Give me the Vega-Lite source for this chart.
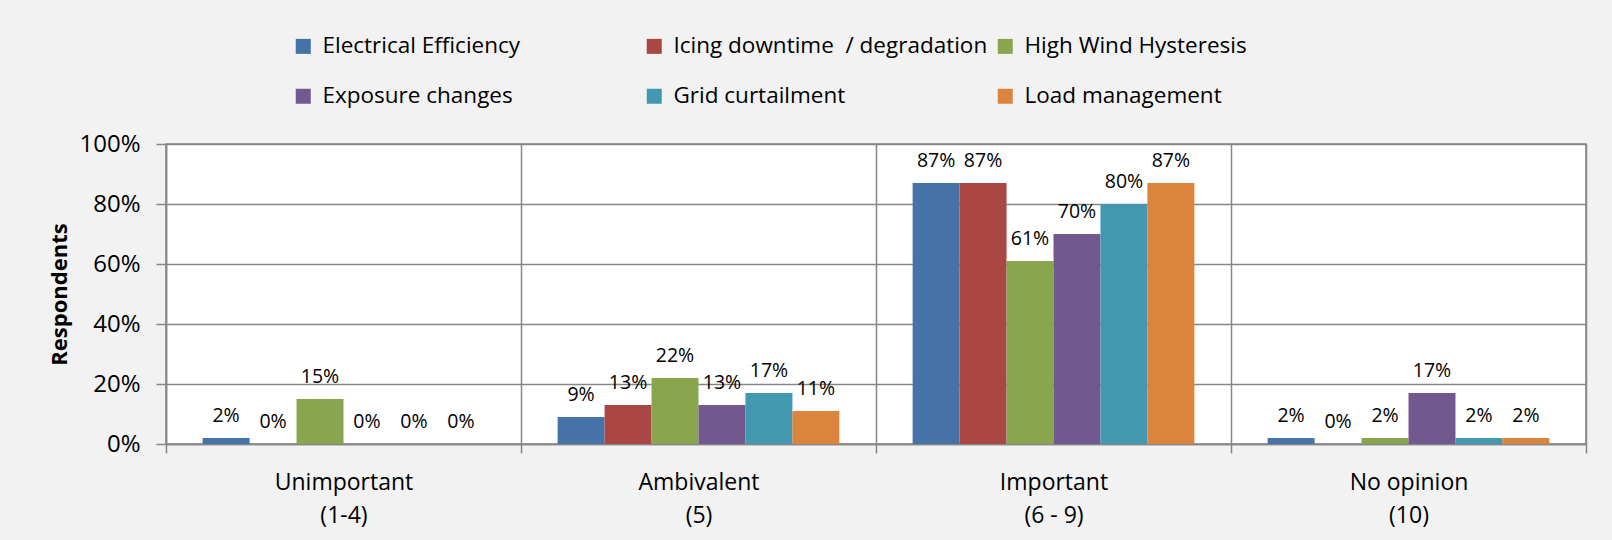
{
  "$schema": "https://vega.github.io/schema/vega-lite/v6.json",
  "width": 1420,
  "height": 300,
  "autosize": {"type": "none"},
  "padding": {"left": 166, "top": 144, "right": 26, "bottom": 96},
  "background": "#F2F2F2",
  "config": {
    "font": "Open Sans",
    "view": {"fill": "white", "stroke": "#868686", "strokeWidth": 1.5}
  },
  "data": {
    "values": [
      {"cat": "Unimportant|(1-4)", "series": "Electrical Efficiency", "v": 0.02},
      {"cat": "Unimportant|(1-4)", "series": "Icing downtime \u00a0/ degradation", "v": 0.0},
      {"cat": "Unimportant|(1-4)", "series": "High Wind Hysteresis", "v": 0.15},
      {"cat": "Unimportant|(1-4)", "series": "Exposure changes", "v": 0.0},
      {"cat": "Unimportant|(1-4)", "series": "Grid curtailment", "v": 0.0},
      {"cat": "Unimportant|(1-4)", "series": "Load management", "v": 0.0},
      {"cat": "Ambivalent|(5)", "series": "Electrical Efficiency", "v": 0.09},
      {"cat": "Ambivalent|(5)", "series": "Icing downtime \u00a0/ degradation", "v": 0.13},
      {"cat": "Ambivalent|(5)", "series": "High Wind Hysteresis", "v": 0.22},
      {"cat": "Ambivalent|(5)", "series": "Exposure changes", "v": 0.13},
      {"cat": "Ambivalent|(5)", "series": "Grid curtailment", "v": 0.17},
      {"cat": "Ambivalent|(5)", "series": "Load management", "v": 0.11},
      {"cat": "Important|(6 - 9)", "series": "Electrical Efficiency", "v": 0.87},
      {"cat": "Important|(6 - 9)", "series": "Icing downtime \u00a0/ degradation", "v": 0.87},
      {"cat": "Important|(6 - 9)", "series": "High Wind Hysteresis", "v": 0.61},
      {"cat": "Important|(6 - 9)", "series": "Exposure changes", "v": 0.70},
      {"cat": "Important|(6 - 9)", "series": "Grid curtailment", "v": 0.80},
      {"cat": "Important|(6 - 9)", "series": "Load management", "v": 0.87},
      {"cat": "No opinion|(10)", "series": "Electrical Efficiency", "v": 0.02},
      {"cat": "No opinion|(10)", "series": "Icing downtime \u00a0/ degradation", "v": 0.0},
      {"cat": "No opinion|(10)", "series": "High Wind Hysteresis", "v": 0.02},
      {"cat": "No opinion|(10)", "series": "Exposure changes", "v": 0.17},
      {"cat": "No opinion|(10)", "series": "Grid curtailment", "v": 0.02},
      {"cat": "No opinion|(10)", "series": "Load management", "v": 0.02}
    ]
  },
  "encoding": {
    "x": {
      "field": "cat",
      "type": "nominal",
      "sort": ["Unimportant|(1-4)", "Ambivalent|(5)", "Important|(6 - 9)", "No opinion|(10)"],
      "scale": {"paddingInner": 0, "paddingOuter": 0},
      "axis": {
        "title": null,
        "labelAngle": 0,
        "labelExpr": "split(datum.label, '|')",
        "labelFontSize": 23,
        "labelColor": "black",
        "labelLineHeight": 33,
        "labelPadding": 18,
        "tickBand": "extent",
        "tickSize": 9,
        "tickColor": "#868686",
        "tickWidth": 1.5,
        "grid": true,
        "gridColor": "#868686",
        "gridWidth": 1.5,
        "domainColor": "#868686",
        "domainWidth": 1.5
      }
    },
    "xOffset": {
      "field": "series",
      "type": "nominal",
      "sort": ["Electrical Efficiency", "Icing downtime \u00a0/ degradation", "High Wind Hysteresis", "Exposure changes", "Grid curtailment", "Load management"],
      "scale": {"paddingInner": 0, "paddingOuter": 0.78}
    },
    "y": {
      "field": "v",
      "type": "quantitative",
      "scale": {"domain": [0, 1]},
      "axis": {
        "title": "Respondents",
        "titleFontSize": 22,
        "titleFontWeight": "bold",
        "titleColor": "black",
        "titlePadding": 7,
        "format": ".0%",
        "values": [0, 0.2, 0.4, 0.6, 0.8, 1],
        "labelFontSize": 24,
        "labelColor": "black",
        "labelPadding": 16,
        "tickSize": 10,
        "tickColor": "#868686",
        "tickWidth": 1.5,
        "gridColor": "#868686",
        "gridWidth": 1.5,
        "domainColor": "#868686",
        "domainWidth": 1.5
      }
    }
  },
  "layer": [
    {
      "mark": {"type": "bar"},
      "encoding": {
        "color": {
          "field": "series",
          "type": "nominal",
          "sort": ["Electrical Efficiency", "Icing downtime \u00a0/ degradation", "High Wind Hysteresis", "Exposure changes", "Grid curtailment", "Load management"],
          "scale": {
            "domain": ["Electrical Efficiency", "Icing downtime \u00a0/ degradation", "High Wind Hysteresis", "Exposure changes", "Grid curtailment", "Load management"],
            "range": ["#4572A7", "#AA4643", "#89A54E", "#71588F", "#4198AF", "#DB843D"]
          },
          "legend": {
            "title": null,
            "orient": "none",
            "direction": "horizontal",
            "legendX": 126,
            "legendY": -109,
            "columns": 3,
            "gridAlign": "all",
            "columnPadding": 6,
            "rowPadding": 27,
            "symbolType": "square",
            "symbolSize": 225,
            "symbolStrokeWidth": 0,
            "labelFontSize": 22.5,
            "labelColor": "black",
            "labelOffset": 8,
            "labelLimit": 400,
            "padding": 0
          }
        }
      }
    },
    {
      "mark": {"type": "text", "dy": -16, "baseline": "alphabetic", "fontSize": 19.5, "color": "black"},
      "encoding": {
        "text": {"field": "v", "type": "quantitative", "format": ".0%"}
      }
    }
  ]
}
